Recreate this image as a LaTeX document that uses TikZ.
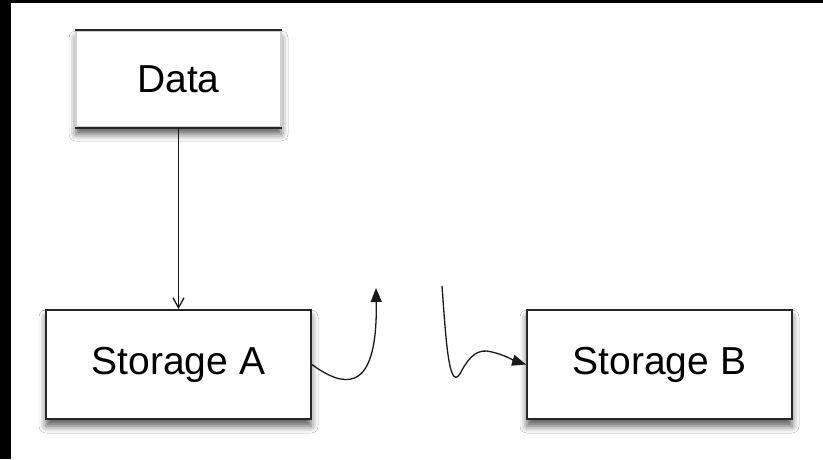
\documentclass[tikz,border=0pt]{standalone}
\usepackage{fontspec}
\setmainfont{Liberation Sans}
\usetikzlibrary{arrows.meta,shadows.blur}
\begin{document}
\begin{tikzpicture}[x=1pt,y=-1pt,
  box/.style={draw=black!85,line width=1.8pt,fill=white,inner sep=0pt,
    font=\fontsize{39}{47}\selectfont,
    blur shadow={shadow xshift=0pt,shadow yshift=-7pt,shadow blur radius=7pt,shadow opacity=65}},
  edgeline/.style={line width=1.8pt,draw=black!85},
  conn/.style={line width=1.3pt,draw=black!90},
  barb/.style={-{Straight Barb[length=10pt,width=11pt]}},
  tri/.style={-{Triangle[length=14pt,width=11pt]}}]
\fill[white] (0,0) rectangle (823,459);
\fill[black] (0,0) rectangle (823,3);
\fill[black] (0,0) rectangle (11,459);
\useasboundingbox (0,0) rectangle (823,459);

\node[box,draw=black!18,minimum width=205pt,minimum height=96pt] (data) at (178.5,79) {Data};
\draw[edgeline] (data.north west) -- (data.north east);
\draw[edgeline] (data.south west) -- (data.south east);

\node[box,minimum width=265pt,minimum height=109pt] (sa) at (178.5,364.5) {Storage A};
\node[box,minimum width=265pt,minimum height=109pt] (sb) at (659.5,364.5) {Storage B};

\coordinate (c1) at (376,288);
\coordinate (c2) at (442,286);

\draw[conn,barb] (data.south) -- (sa.north);
\draw[conn,tri] (sa.east) .. controls (340,385) and (378,400) .. (c1);
\draw[conn,tri] (c2) .. controls (446,340) and (449,398) .. (462,370)
  .. controls (470,356) and (478,348) .. (492,352)
  .. controls (505,355) and (515,361) .. (sb.west);
\end{tikzpicture}
\end{document}
